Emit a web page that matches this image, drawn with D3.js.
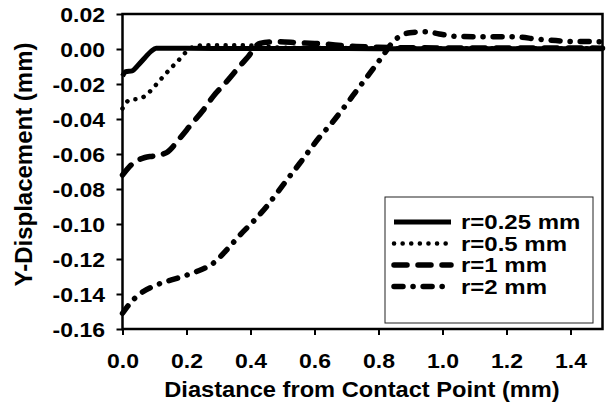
<!DOCTYPE html>
<html>
<head>
  <meta http-equiv="Content-Type" content="text/html;charset=utf-8">
  <title>Y-Displacement</title>
  <script src="https://cdn.jsdelivr.net/npm/d3@7"></script>
  <style>
    body { margin: 0; background: #fff; }
    text { font-family: "Liberation Sans", Arial, sans-serif; font-weight: bold; fill: #000; }
  </style>
</head>
<body>
<svg width="606" height="412"></svg>
<script>
// data (x in mm, y in mm)
var seriesNames = ["r=0.25 mm", "r=0.5 mm", "r=1 mm", "r=2 mm"];
var xTicks = [0, 0.2, 0.4, 0.6, 0.8, 1.0, 1.2, 1.4];
var yTicks = [-0.16, -0.14, -0.12, -0.10, -0.08, -0.06, -0.04, -0.02, 0.00, 0.02];

var r025 = [[0,-0.0155],[0.01,-0.013],[0.03,-0.0125],[0.05,-0.009],[0.07,-0.005],[0.09,-0.0012],[0.105,0.0005],
  [0.2,0.0004],[0.4,0.0003],[0.6,0.0003],[0.8,0.0002],[1.0,0.0002],[1.2,0.0002],[1.5,0.0002]];
var r05 = [[0,-0.034],[0.023,-0.029],[0.052,-0.0285],[0.08,-0.0253],[0.104,-0.0206],[0.127,-0.0158],[0.151,-0.011],
  [0.176,-0.0063],[0.2,-0.0015],[0.226,0.0015],[0.26,0.0022],[0.35,0.0022],[0.42,0.0018],[0.5,0.0008],
  [0.7,0.0005],[1.0,0.0004],[1.5,0.0004]];
var r1 = [[0,-0.072],[0.033,-0.0653],[0.07,-0.062],[0.096,-0.0612],[0.1375,-0.0592],[0.179,-0.051],[0.215,-0.043],
  [0.252,-0.035],[0.283,-0.0272],[0.325,-0.0187],[0.356,-0.012],[0.3925,-0.0044],[0.429,0.0032],[0.48,0.0042],
  [0.55,0.0036],[0.6,0.0032],[0.73,0.0015],[0.8,0.001],[1.0,0.0006],[1.5,0.0005]];
var r2 = [[0,-0.151],[0.025,-0.145],[0.054,-0.14],[0.106,-0.1349],[0.179,-0.1305],[0.231,-0.1272],[0.283,-0.1225],
  [0.33,-0.1139],[0.367,-0.1063],[0.413,-0.0977],[0.45,-0.0901],[0.486,-0.0815],[0.5175,-0.0739],[0.554,-0.0653],
  [0.585,-0.0577],[0.617,-0.0501],[0.653,-0.0425],[0.7,-0.0315],[0.73,-0.0242],[0.773,-0.0138],[0.809,-0.005],
  [0.846,0.0042],[0.898,0.0093],[0.95,0.0099],[0.99,0.0086],[1.044,0.0072],[1.127,0.007],[1.22,0.007],
  [1.3,0.0056],[1.41,0.0043],[1.5,0.0042]];
var allSeries = [r025, r05, r1, r2];

var marge = {top:14, bottom:83, left:122.5, right:3.5};//边距
var dash = ["none", "0.1 8.5", "13 11", "9 10 0.1 10"];
var widths = [5, 4.5, 5.5, 5.5];
var sx = 1.15; // 字体横向拉伸

var svg = d3.select("svg");
var W = 606 - marge.left - marge.right, H = 412 - marge.top - marge.bottom;
var x = d3.scaleLinear().domain([0, 1.5]).range([marge.left, marge.left + W]);
var y = d3.scaleLinear().domain([-0.16, 0.02]).range([marge.top + H, marge.top]);
var fmt = function(f){ return function(d){ return d3.format(f)(d).replace("\u2212", "-"); }; };

// 坐标轴
var gx = svg.append("g").attr("transform", "translate(0," + (marge.top + H) + ")")
  .call(d3.axisBottom(x).tickValues(xTicks).tickFormat(fmt(".1f")).tickSize(6));
var gy = svg.append("g").attr("transform", "translate(" + marge.left + ",0)")
  .call(d3.axisLeft(y).tickValues(yTicks).tickFormat(fmt(".2f")).tickSize(6));
[gx, gy].forEach(function(g){
  g.select(".domain").remove();
  g.selectAll("line").attr("stroke", "#000").attr("stroke-width", 2);
  g.selectAll("text").attr("font-size", 20).attr("font-family", null);
});
gx.selectAll("text").attr("y", 0).attr("dy", 0).attr("transform", "translate(0,39) scale(" + sx + ",1)");
gy.selectAll("text").attr("x", 0).attr("dy", "0.36em").attr("transform", "translate(-17.5,0) scale(" + sx + ",1)");

// 曲线
var line = d3.line().x(function(d){ return x(d[0]); }).y(function(d){ return y(d[1]); }).curve(d3.curveMonotoneX);
svg.append("g").selectAll("path").data(allSeries).enter().append("path")
  .attr("d", line)
  .attr("fill", "none")
  .attr("stroke", "#000")
  .attr("stroke-width", function(d,i){ return widths[i]; })
  .attr("stroke-linecap", function(d,i){ return i == 0 ? "butt" : "round"; })
  .attr("stroke-dasharray", function(d,i){ return dash[i]; });

// 边框
svg.append("rect").attr("x", marge.left).attr("y", marge.top).attr("width", W).attr("height", H)
  .attr("fill", "none").attr("stroke", "#000").attr("stroke-width", 2.5);

// 图例
var leg = svg.append("g").attr("transform", "translate(385,197)");
leg.append("rect").attr("width", 208).attr("height", 126).attr("fill", "#fff")
  .attr("stroke", "#222").attr("stroke-width", 1);
var items = leg.selectAll(".item").data(seriesNames).enter().append("g")
  .attr("transform", function(d,i){ return "translate(0," + (25 + i * 21.5) + ")"; });
items.append("line").attr("x1", 9).attr("x2", 66).attr("stroke", "#000")
  .attr("stroke-width", function(d,i){ return widths[i]; })
  .attr("stroke-linecap", function(d,i){ return i == 0 ? "butt" : "round"; })
  .attr("stroke-dasharray", function(d,i){ return dash[i]; });
items.append("text").attr("dy", "0.36em").attr("font-size", 20)
  .attr("transform", "translate(76,0) scale(1.2,1)").text(function(d){ return d; });

// 标题
svg.append("text").attr("transform", "translate(362,397) scale(1.1,1)").attr("text-anchor", "middle")
  .attr("font-size", 21.5).text("Diastance from Contact Point (mm)");
svg.append("text").attr("transform", "translate(32,164.5) rotate(-90)").attr("text-anchor", "middle")
  .attr("font-size", 24).text("Y-Displacement (mm)");
</script>
</body>
</html>
